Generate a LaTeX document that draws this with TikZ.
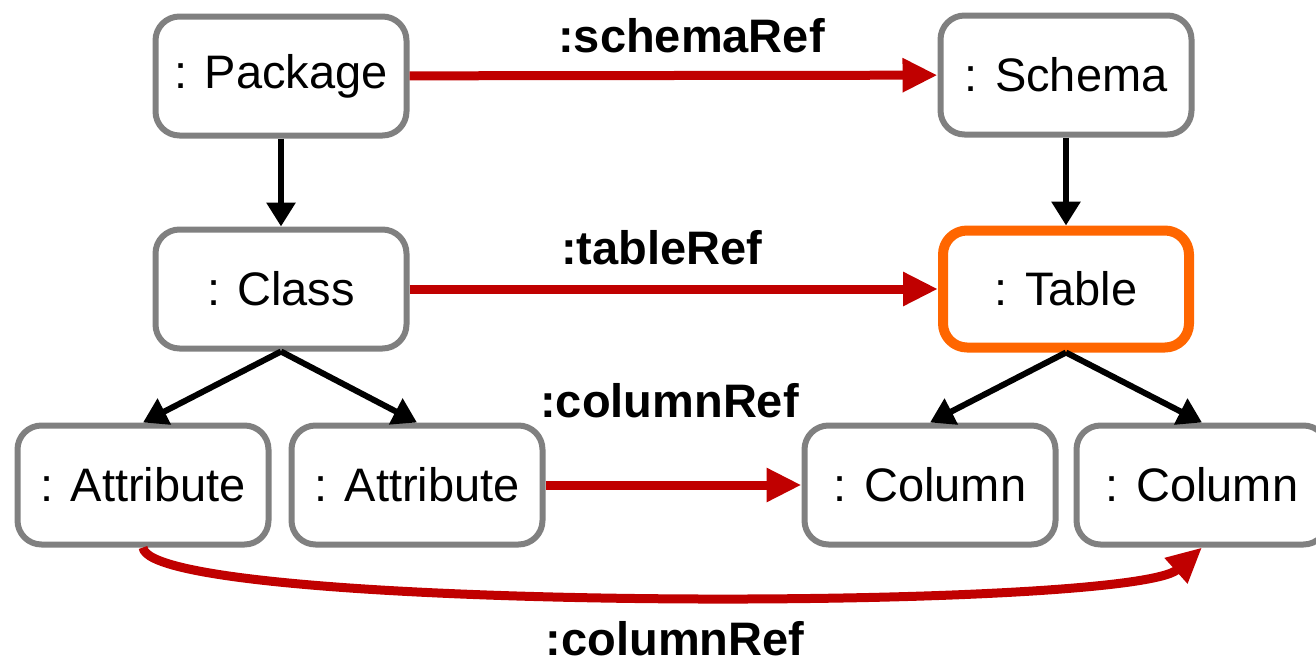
\documentclass[tikz,border=0pt]{standalone}
\usepackage{fontspec}
\setmainfont{Liberation Sans}
\usetikzlibrary{arrows.meta}

\definecolor{boxgray}{RGB}{128,128,128}
\definecolor{refred}{RGB}{192,0,0}
\definecolor{tblorange}{RGB}{255,102,0}
\newcommand{\objfont}{\fontsize{23.5}{28}\selectfont}
\newcommand{\reffont}{\fontsize{23.5}{28}\selectfont\bfseries}

\begin{document}
\begin{tikzpicture}[x=0.5pt,y=-0.5pt,line join=round,
    obj/.style={draw=boxgray,line width=3pt,rounded corners=12pt,fill=white,
      minimum width=125.5pt,minimum height=59.5pt,inner sep=0pt,font=\objfont},
    tbl/.style={obj,draw=tblorange,line width=5pt,minimum width=123pt,minimum height=58.5pt},
    owns/.style={-{Triangle[length=12pt,width=14pt]},line width=3pt,black},
    ref/.style={-{Triangle[length=17.5pt,width=16pt]},line width=4.5pt,refred},
    reflabel/.style={font=\reffont,text=black,inner sep=0pt,text depth=0pt}]
  \useasboundingbox (0,0) rectangle (1316,664);

  % object side
  \node[obj] (pkg)   at (281,76)  {: Package};
  \node[obj] (cls)   at (281,289) {: Class};
  \node[obj] (attrA) at (143,485) {: Attribute};
  \node[obj] (attrB) at (417,485) {: Attribute};

  % database side
  \node[obj] (sch)   at (1066,75)  {: Schema};
  \node[tbl] (tab)   at (1066,289) {: Table};
  \node[obj] (colA)  at (930,485)  {: Column};
  \node[obj] (colB)  at (1202,485) {: Column};

  \draw[owns] (pkg) -- (cls);
  \draw[owns] (cls.south) -- (attrA.north);
  \draw[owns] (cls.south) -- (attrB.north);
  \draw[owns] (sch) -- (tab);
  \draw[owns] (tab.south) -- (colA.north);
  \draw[owns] (tab.south) -- (colB.north);

  \draw[ref] (pkg) -- node[reflabel,above=9.5pt,xshift=9pt] (lblSchema) {:schemaRef} (sch);
  \draw[ref] (cls) -- node[reflabel,above=10pt,xshift=-6pt] (lblTable) {:tableRef} (tab);
  \draw[ref] (attrB) -- node[reflabel,above=31.5pt,xshift=-2pt] (lblColA) {:columnRef} (colA);
  \draw[ref] (attrA.south) .. controls (150,612) and (1130,612) .. (colB.south);
  \node[reflabel,anchor=base] (lblColB) at (675,655) {:columnRef};
\end{tikzpicture}
\end{document}
